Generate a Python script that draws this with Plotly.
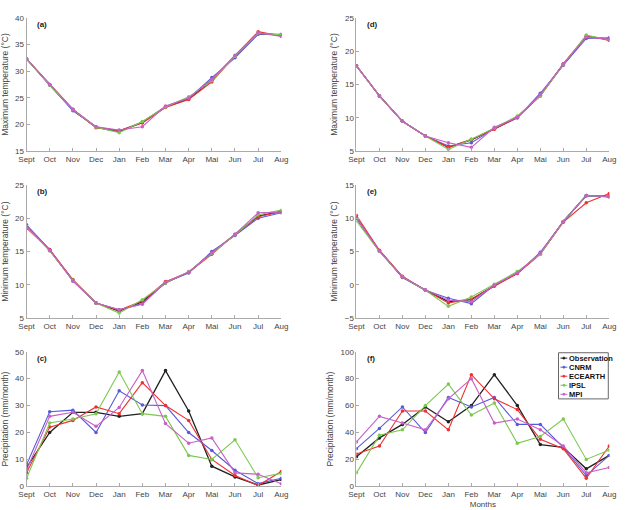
import plotly.graph_objects as go

months = ["Sept", "Oct", "Nov", "Dec", "Jan", "Feb", "Mar", "Apr", "Mai", "Jun", "Jul", "Aug"]
series_names = ["Observation", "CNRM", "ECEARTH", "IPSL", "MPI"]
colors = ["#222222", "#5a5ad8", "#ee3030", "#7cc850", "#c860c8"]

# (a) Maximum temperature, region 1
tmax_a_obs = [32.3, 27.4, 22.8, 19.5, 18.7, 20.4, 23.3, 24.8, 28.3, 32.8, 37.0, 36.8]
tmax_a_cnrm = [32.3, 27.5, 22.6, 19.6, 18.8, 20.5, 23.4, 24.9, 28.8, 32.5, 36.9, 36.9]
tmax_a_ece = [32.3, 27.5, 22.9, 19.4, 18.9, 20.3, 23.2, 24.7, 28.0, 32.9, 37.4, 36.6]
tmax_a_ipsl = [32.3, 27.4, 22.8, 19.5, 18.5, 20.6, 23.3, 25.2, 28.2, 32.8, 37.1, 36.8]
tmax_a_mpi = [32.3, 27.5, 22.9, 19.6, 19.0, 19.6, 23.5, 25.0, 28.5, 33.0, 37.2, 36.5]

# (b) Minimum temperature, region 1
tmin_b_obs = [18.8, 15.2, 10.7, 7.3, 6.1, 7.5, 10.3, 11.9, 14.8, 17.5, 20.3, 21.0]
tmin_b_cnrm = [19.0, 15.3, 10.6, 7.3, 6.3, 7.2, 10.4, 11.8, 15.0, 17.4, 20.0, 20.8]
tmin_b_ece = [18.5, 15.3, 10.8, 7.3, 6.2, 7.6, 10.5, 11.9, 14.6, 17.6, 20.2, 21.0]
tmin_b_ipsl = [18.7, 15.1, 10.7, 7.3, 5.8, 7.8, 10.3, 12.0, 14.7, 17.5, 20.5, 21.2]
tmin_b_mpi = [18.8, 15.2, 10.6, 7.3, 6.3, 7.1, 10.4, 11.9, 14.8, 17.6, 20.8, 20.9]

# (c) Precipitation, region 1
pr_c_obs = [7.0, 20.0, 27.5, 27.5, 26.0, 27.0, 43.0, 28.0, 7.5, 3.5, 0.5, 2.5]
pr_c_cnrm = [8.0, 27.7, 28.3, 20.0, 35.5, 30.2, 30.0, 20.0, 13.3, 6.0, 1.0, 3.0]
pr_c_ece = [5.0, 22.0, 24.5, 29.5, 27.0, 38.5, 30.0, 24.5, 10.0, 4.0, 0.3, 5.5]
pr_c_ipsl = [3.0, 23.5, 25.0, 27.0, 42.5, 27.0, 26.0, 11.5, 10.0, 17.3, 3.2, 4.8]
pr_c_mpi = [6.0, 26.0, 27.5, 22.3, 29.3, 43.0, 23.3, 16.0, 18.0, 5.0, 4.5, 1.0]

# (d) Maximum temperature, region 2
tmax_d_obs = [17.8, 13.3, 9.5, 7.3, 5.6, 6.7, 8.4, 10.1, 13.4, 18.0, 22.2, 21.8]
tmax_d_cnrm = [17.8, 13.3, 9.5, 7.3, 5.8, 6.3, 8.4, 10.0, 13.7, 17.9, 21.9, 22.0]
tmax_d_ece = [17.8, 13.3, 9.5, 7.3, 5.6, 6.8, 8.3, 10.1, 13.3, 18.1, 22.3, 21.6]
tmax_d_ipsl = [17.8, 13.3, 9.5, 7.3, 5.3, 6.8, 8.5, 10.3, 13.3, 18.0, 22.4, 21.7]
tmax_d_mpi = [17.8, 13.3, 9.5, 7.3, 6.3, 5.6, 8.6, 10.1, 13.5, 18.1, 22.1, 21.8]

# (e) Minimum temperature, region 2
tmin_e_obs = [10.0, 5.1, 1.2, -0.8, -2.5, -2.2, -0.1, 1.8, 4.7, 9.5, 13.4, 13.2]
tmin_e_cnrm = [10.0, 5.1, 1.1, -0.8, -2.0, -2.8, 0.0, 1.7, 4.9, 9.5, 13.3, 13.3]
tmin_e_ece = [10.4, 5.2, 1.3, -0.8, -2.7, -2.1, -0.2, 1.7, 4.6, 9.4, 12.3, 13.7]
tmin_e_ipsl = [9.6, 5.0, 1.2, -0.8, -3.2, -1.8, 0.1, 2.0, 4.6, 9.5, 13.4, 13.2]
tmin_e_mpi = [10.0, 5.1, 1.2, -0.7, -2.3, -2.5, 0.0, 1.8, 4.8, 9.5, 13.4, 13.2]

# (f) Precipitation, region 2
pr_f_obs = [22, 36, 46, 59, 48, 60, 83, 60, 31, 29, 13, 23]
pr_f_cnrm = [28, 43, 59, 40, 66, 59, 66, 46, 46, 29, 8, 23]
pr_f_ece = [24, 30, 56, 56, 42, 83, 65, 57, 35, 28, 6, 30]
pr_f_ipsl = [10, 38, 42, 60, 76, 53, 62, 32, 37, 50, 20, 27]
pr_f_mpi = [33, 52, 47, 42, 65, 80, 47, 50, 42, 30, 10, 14]

panels = [
    ("(a)", [tmax_a_obs, tmax_a_cnrm, tmax_a_ece, tmax_a_ipsl, tmax_a_mpi], "Maximum temperature (°C)", [15, 40], 5),
    ("(b)", [tmin_b_obs, tmin_b_cnrm, tmin_b_ece, tmin_b_ipsl, tmin_b_mpi], "Minimum temperature (°C)", [5, 25], 5),
    ("(c)", [pr_c_obs, pr_c_cnrm, pr_c_ece, pr_c_ipsl, pr_c_mpi], "Precipitation (mm/month)", [0, 50], 10),
    ("(d)", [tmax_d_obs, tmax_d_cnrm, tmax_d_ece, tmax_d_ipsl, tmax_d_mpi], "Maximum temperature (°C)", [5, 25], 5),
    ("(e)", [tmin_e_obs, tmin_e_cnrm, tmin_e_ece, tmin_e_ipsl, tmin_e_mpi], "Minimum temperature (°C)", [-5, 15], 5),
    ("(f)", [pr_f_obs, pr_f_cnrm, pr_f_ece, pr_f_ipsl, pr_f_mpi], "Precipitation (mm/month)", [0, 100], 20),
]

W, H = 627, 510
FONT = "Liberation Sans, Arial, sans-serif"
xdoms = [(19 / W, 280 / W), (357 / W, 616 / W)]
ydoms = [(1 - 150 / H, 1 - 14 / H), (1 - 320 / H, 1 - 184 / H), (1 - 491 / H, 1 - 354 / H)]

fig = go.Figure()
layout = dict(
    width=W, height=H, margin=dict(l=0, r=0, t=0, b=0),
    paper_bgcolor="white", plot_bgcolor="white",
    font=dict(family=FONT, size=8, color="#444"),
    showlegend=False,
)
annotations = []
shapes = []
for i, (lab, data, ytitle, yr, dt) in enumerate(panels):
    col = i // 3
    row = i % 3
    n = i + 1
    xa = "x" if n == 1 else f"x{n}"
    ya = "y" if n == 1 else f"y{n}"
    for j, vals in enumerate(data):
        fig.add_trace(go.Scatter(
            x=months, y=vals, mode="lines+markers", name=series_names[j],
            line=dict(color=colors[j], width=1.3 if j == 0 else 1.1),
            marker=dict(size=3.5, color=colors[j]),
            xaxis=xa, yaxis=ya, showlegend=False,
        ))
    layout["xaxis" if n == 1 else f"xaxis{n}"] = dict(
        domain=xdoms[col], anchor=ya, type="category", categoryorder="array",
        categoryarray=months, range=[0, 11], showline=True, linecolor="#aaa",
        linewidth=1, ticks="inside", ticklen=3, tickcolor="#aaa", showgrid=False,
        zeroline=False, tickfont=dict(size=8, color="#444"),
        title=dict(text="Months" if lab == "(f)" else "", font=dict(size=8), standoff=3),
    )
    layout["yaxis" if n == 1 else f"yaxis{n}"] = dict(
        domain=ydoms[row], anchor=xa, range=yr, dtick=dt, showline=True,
        linecolor="#aaa", linewidth=1, ticks="inside", ticklen=3, tickcolor="#aaa",
        showgrid=False, zeroline=False, tickfont=dict(size=8, color="#444"),
        title=dict(text=ytitle, font=dict(size=8.5, color="#444"), standoff=5),
    )
    annotations.append(dict(
        text=f"<b>{lab}</b>", xref=f"{xa} domain", yref=f"{ya} domain",
        x=0.035, y=1.0, xanchor="left", yanchor="top", showarrow=False,
        font=dict(size=8, color="#222"),
    ))

# compact legend (drawn in paper coordinates inside panel f)
lx0, lx1, ly0, ly1 = 564, 615, 355, 402
shapes.append(dict(type="rect", xref="paper", yref="paper",
                   x0=lx0 / W, x1=lx1 / W, y0=1 - ly1 / H, y1=1 - ly0 / H,
                   line=dict(color="#666", width=1), fillcolor="white", layer="above"))
for j, nm in enumerate(series_names):
    yc = ly0 + 5.5 + j * 9.2
    shapes.append(dict(type="line", xref="paper", yref="paper",
                       x0=(lx0 + 2) / W, x1=(lx0 + 9) / W, y0=1 - yc / H, y1=1 - yc / H,
                       line=dict(color=colors[j], width=1), layer="above"))
    shapes.append(dict(type="circle", xref="paper", yref="paper",
                       x0=(lx0 + 4.5) / W, x1=(lx0 + 6.5) / W, y0=1 - (yc + 1) / H, y1=1 - (yc - 1) / H,
                       line=dict(color=colors[j], width=1), fillcolor=colors[j], layer="above"))
    annotations.append(dict(
        text=f"<b>{nm}</b>", xref="paper", yref="paper",
        x=(lx0 + 9.5) / W, y=1 - yc / H, xanchor="left", yanchor="middle", showarrow=False,
        font=dict(size=7.5, color="#111", family=FONT), borderpad=0,
    ))
layout["annotations"] = annotations
layout["shapes"] = shapes
fig.update_layout(**layout)
fig.write_html("out.html")
